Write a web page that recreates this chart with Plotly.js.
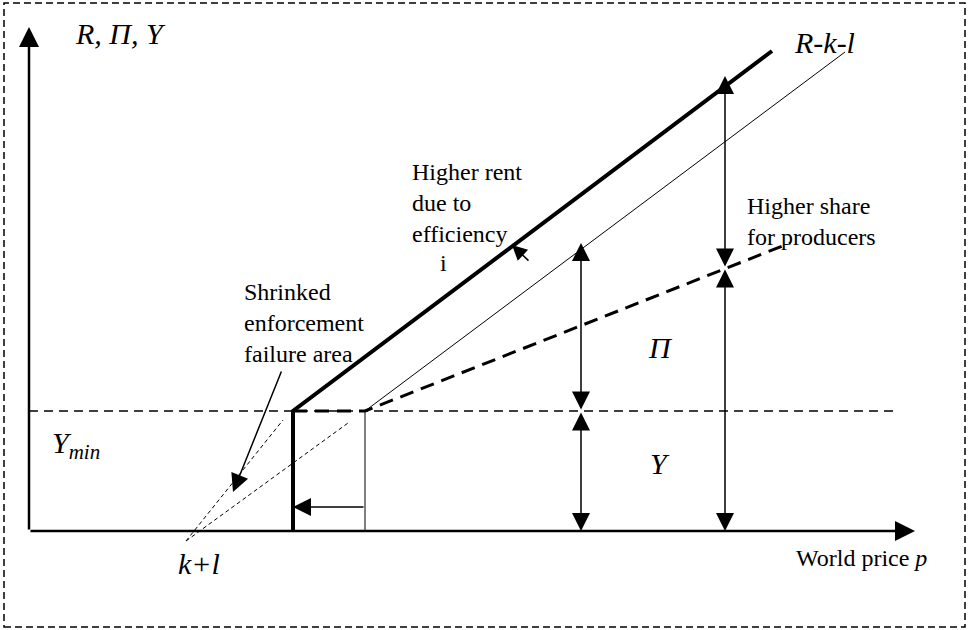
<!DOCTYPE html>
<html>
<head>
<meta charset="utf-8">
<script src="https://cdn.plot.ly/plotly-3.0.1.min.js"></script>
<style>html,body{margin:0;padding:0;background:#fff;}#chart{width:969px;height:630px;}</style>
</head>
<body>
<div id="chart"></div>
<script>
// ---- diagram values (x = world price p, y = R, Π, Y) ----
const axisXEnd = 886;
const axisYTop = 504;
const yMin = 120;
const yMinLineX = [0, 866];
const yMinLineY = [yMin, yMin];
// rent line after efficiency gain (thick)
const rentNewX = [264, 264, 743];
const rentNewY = [0, yMin, 480];
// original R-k-l line (thin)
const rentOldX = [336, 336, 816];
const rentOldY = [0, yMin, 479];
// producers' share line (thick dashed)
const shareX = [264, 336, 761];
const shareY = [yMin, yMin, 288];
// dotted extensions to k+l
const dotAX = [157, 254];
const dotAY = [-10, 111];
const dotBX = [157, 319];
const dotBY = [-10, 108];
// double arrows
const midArrowP = 552;
const midArrowY = [0, yMin, 288];
const rightArrowP = 696;
const rightArrowY = [0, 263, 455];
// shift arrow
const shiftArrowX = [336, 264];
const shiftArrowY = 24;
// pointer arrows
const effArrowX = [501, 483];
const effArrowY = [269, 286];
const shrinkArrowX = [253, 204];
const shrinkArrowY = [161, 39];

const FONT = 'Liberation Serif, Times New Roman, serif';
const INK = '#000';

function line(x, y, w, dash) {
  return {type: 'scatter', mode: 'lines', x: x, y: y, hoverinfo: 'skip',
    line: {color: INK, width: w, dash: dash || 'solid'}};
}

const traces = [
  line(yMinLineX, yMinLineY, 1.5, '9px,6px'),
  line(dotAX, dotAY, 1, '4px,3px'),
  line(dotBX, dotBY, 1, '4px,3px'),
  line(rentOldX, rentOldY, 1),
  line(shareX, shareY, 3, '14px,8px'),
  line(rentNewX, rentNewY, 4)
];

function arrow(x, y, ax, ay, w, size, both) {
  const a = {x: x, y: y, ax: ax, ay: ay, xref: 'x', yref: 'y', axref: 'x', ayref: 'y',
    text: '', showarrow: true, arrowhead: 2, arrowsize: size, arrowwidth: w,
    arrowcolor: INK, standoff: 0, startstandoff: 0};
  if (both) {
    a.arrowside = 'end+start';
    a.startarrowhead = 2;
    a.startarrowsize = size;
  }
  return a;
}

function label(text, x, y, size, anchor) {
  return {x: x, y: y, xref: 'x', yref: 'y', text: text, showarrow: false,
    xanchor: anchor || 'left', yanchor: 'middle', align: 'left',
    font: {family: FONT, size: size, color: INK}};
}

const annotations = [
  arrow(axisXEnd, 0, 0, 0, 2.5, 1.6),
  arrow(0, axisYTop, 0, 0, 2.5, 1.6),
  arrow(midArrowP, midArrowY[0], midArrowP, midArrowY[1], 1.5, 2.4, true),
  arrow(midArrowP, midArrowY[2], midArrowP, midArrowY[1], 1.5, 2.4, true),
  arrow(rightArrowP, rightArrowY[0], rightArrowP, rightArrowY[1], 1.5, 2.4, true),
  arrow(rightArrowP, rightArrowY[2], rightArrowP, rightArrowY[1], 1.5, 2.4, true),
  arrow(shiftArrowX[1], shiftArrowY, shiftArrowX[0], shiftArrowY, 1.5, 2.4),
  arrow(effArrowX[1], effArrowY[1], effArrowX[0], effArrowY[0], 1.5, 2.0),
  arrow(shrinkArrowX[1], shrinkArrowY[1], shrinkArrowX[0], shrinkArrowY[0], 1.5, 2.4),

  label('<i>R, Π, Y</i>', 44, 498, 30),
  label('<i>R-k-l</i>', 763, 489, 30),
  label('Higher rent<br>due to<br>efficiency', 381, 328, 24),
  label('i', 409, 268, 24),
  label('Shrinked<br>enforcement<br>failure area', 213, 208, 24),
  label('Higher share<br>for producers', 716, 310, 24),
  label('<i>Π</i>', 631, 184, 30, 'center'),
  label('<i>Y</i>', 631, 68, 30, 'center'),
  label('<i>Y</i><sub><i>min</i></sub>', 21, 86, 30),
  label('<i>k+l</i>', 170, -32, 30, 'center'),
  label('World price <i>p</i>', 765, -27, 24)
];

const layout = {
  width: 969, height: 630,
  margin: {l: 0, r: 0, t: 0, b: 0, pad: 0},
  paper_bgcolor: '#fff', plot_bgcolor: '#fff',
  showlegend: false,
  xaxis: {range: [-29, 940], visible: false, fixedrange: true},
  yaxis: {range: [-99, 531], visible: false, fixedrange: true},
  shapes: [{type: 'rect', xref: 'paper', yref: 'paper',
    x0: 4 / 969, x1: 965 / 969, y0: 3 / 630, y1: 627 / 630,
    line: {color: INK, width: 1.5, dash: '7px,4px'}}],
  annotations: annotations
};

Plotly.newPlot('chart', traces, layout, {staticPlot: true, displayModeBar: false});
</script>
</body>
</html>
